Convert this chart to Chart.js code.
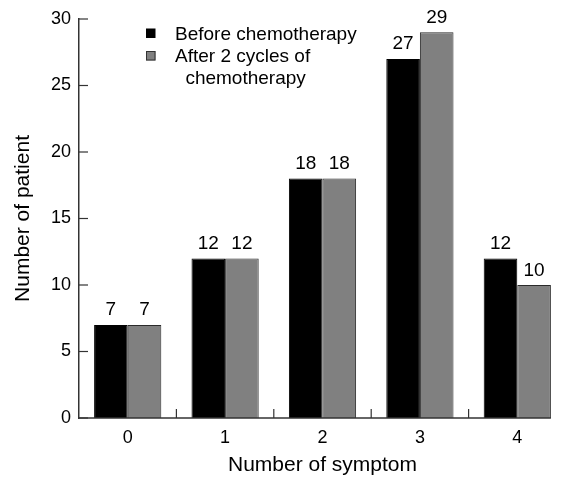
<!DOCTYPE html>
<html>
<head>
<meta charset="utf-8">
<script src="https://cdn.jsdelivr.net/npm/chart.js@4"></script>
<style>
  html, body { margin: 0; padding: 0; background: #fff; overflow: hidden; width: 565px; height: 481px; }
  #wrap { position: relative; width: 600px; height: 481px; }
</style>
</head>
<body>
<div id="wrap"><canvas id="c"></canvas></div>
<script>
const categories = ['0', '1', '2', '3', '4'];
const beforeValues = [7, 12, 18, 27, 12];
const afterValues = [7, 12, 18, 29, 10];
const seriesLabels = ['Before chemotherapy', 'After 2 cycles of chemotherapy'];
const legendLines = [['Before chemotherapy'], ['After 2 cycles of', 'chemotherapy']];
const yTickValues = [0, 5, 10, 15, 20, 25, 30];
const xTitle = 'Number of symptom';
const yTitle = 'Number of patient';

const FONT = '"Liberation Sans", Arial, Helvetica, sans-serif';
const AXIS_COLOR = '#333';
const COLORS = ['#000000', '#808080'];
const BORDERS = ['#000000', '#2a2a2a'];

const axisPlugin = {
  id: 'axisPlugin',
  afterDatasetsDraw(chart) {
    const { ctx, chartArea, scales } = chart;
    const x = scales.x, y = scales.y;
    const left = chartArea.left, bottom = chartArea.bottom;
    ctx.save();
    ctx.strokeStyle = AXIS_COLOR;
    ctx.lineWidth = 1.5;
    // x-axis line ends at the right edge of the last bar
    const meta = chart.getDatasetMeta(chart.data.datasets.length - 1);
    const last = meta.data[meta.data.length - 1];
    const xEnd = last.x + last.width / 2;
    ctx.beginPath();
    ctx.moveTo(left - 0.75, bottom);
    ctx.lineTo(xEnd, bottom);
    ctx.stroke();
    ctx.lineWidth = 1.2;
    // inward y ticks
    y.ticks.forEach(t => {
      const py = y.getPixelForValue(t.value);
      ctx.beginPath();
      ctx.moveTo(left, py);
      ctx.lineTo(left + 9, py);
      ctx.stroke();
    });
    // inward x ticks between categories
    for (let i = 1; i < categories.length; i++) {
      const px = (x.getPixelForValue(i - 1) + x.getPixelForValue(i)) / 2;
      ctx.beginPath();
      ctx.moveTo(px, bottom);
      ctx.lineTo(px, bottom - 9);
      ctx.stroke();
    }
    ctx.restore();
  }
};

const valueLabelPlugin = {
  id: 'valueLabels',
  afterDatasetsDraw(chart) {
    const { ctx } = chart;
    ctx.save();
    ctx.fillStyle = '#000';
    ctx.font = '19px ' + FONT;
    ctx.textAlign = 'center';
    ctx.textBaseline = 'alphabetic';
    chart.data.datasets.forEach((ds, di) => {
      const meta = chart.getDatasetMeta(di);
      meta.data.forEach((el, i) => {
        ctx.fillText(String(ds.data[i]), el.x, el.y - 9.5);
      });
    });
    ctx.restore();
  }
};

const legendPlugin = {
  id: 'customLegend',
  afterDraw(chart) {
    const { ctx, chartArea } = chart;
    const sqX = chartArea.left + 67;
    const txtX = chartArea.left + 96;
    const baseTop = chartArea.top;
    ctx.save();
    ctx.font = '19px ' + FONT;
    ctx.textBaseline = 'alphabetic';
    ctx.fillStyle = '#000';
    // item 1
    ctx.fillStyle = COLORS[0];
    ctx.fillRect(sqX, baseTop + 9.5, 9.5, 9.5);
    ctx.fillStyle = '#000';
    ctx.textAlign = 'left';
    ctx.fillText(legendLines[0][0], txtX, baseTop + 20.5);
    // item 2
    ctx.fillStyle = COLORS[1];
    ctx.fillRect(sqX, baseTop + 32, 9.5, 9.5);
    ctx.strokeStyle = '#333';
    ctx.lineWidth = 1;
    ctx.strokeRect(sqX + 0.5, baseTop + 32.5, 8.5, 8.5);
    ctx.fillStyle = '#000';
    const w1 = ctx.measureText(legendLines[1][0]).width;
    ctx.fillText(legendLines[1][0], txtX, baseTop + 42.5);
    ctx.textAlign = 'center';
    ctx.fillText(legendLines[1][1], txtX + w1 / 2 + 3, baseTop + 64.5);
    ctx.restore();
  }
};

new Chart(document.getElementById('c'), {
  type: 'bar',
  data: {
    labels: categories,
    datasets: [
      {
        label: seriesLabels[0],
        data: beforeValues,
        backgroundColor: COLORS[0],
        borderColor: BORDERS[0],
        borderWidth: 1
      },
      {
        label: seriesLabels[1],
        data: afterValues,
        backgroundColor: COLORS[1],
        borderColor: BORDERS[1],
        borderWidth: 1
      }
    ]
  },
  options: {
    responsive: true,
    maintainAspectRatio: false,
    animation: false,
    devicePixelRatio: 1,
    layout: { padding: { top: 19, right: 34, left: 0, bottom: 0 } },
    datasets: { bar: { categoryPercentage: 0.69, barPercentage: 1 } },
    plugins: {
      legend: { display: false },
      tooltip: { enabled: false },
      title: { display: false }
    },
    scales: {
      x: {
        grid: { display: false, drawTicks: false },
        border: { display: false },
        ticks: {
          color: '#000',
          font: { family: FONT, size: 18 },
          padding: 9,
          maxRotation: 0
        },
        title: {
          display: true,
          text: xTitle,
          color: '#000',
          font: { family: FONT, size: 21 },
          padding: 3
        },
        afterFit(scale) { scale.height = 63; }
      },
      y: {
        min: 0,
        max: 30,
        afterBuildTicks(scale) { scale.ticks = yTickValues.map(v => ({ value: v })); },
        grid: { display: false, drawTicks: false },
        border: { display: true, color: AXIS_COLOR, width: 1.5 },
        ticks: {
          color: '#000',
          font: { family: FONT, size: 18 },
          padding: 8
        },
        title: {
          display: true,
          text: yTitle,
          color: '#000',
          font: { family: FONT, size: 21 },
          padding: 11
        },
        afterFit(scale) { scale.width = 79; }
      }
    }
  },
  plugins: [axisPlugin, valueLabelPlugin, legendPlugin]
});
</script>
</body>
</html>
